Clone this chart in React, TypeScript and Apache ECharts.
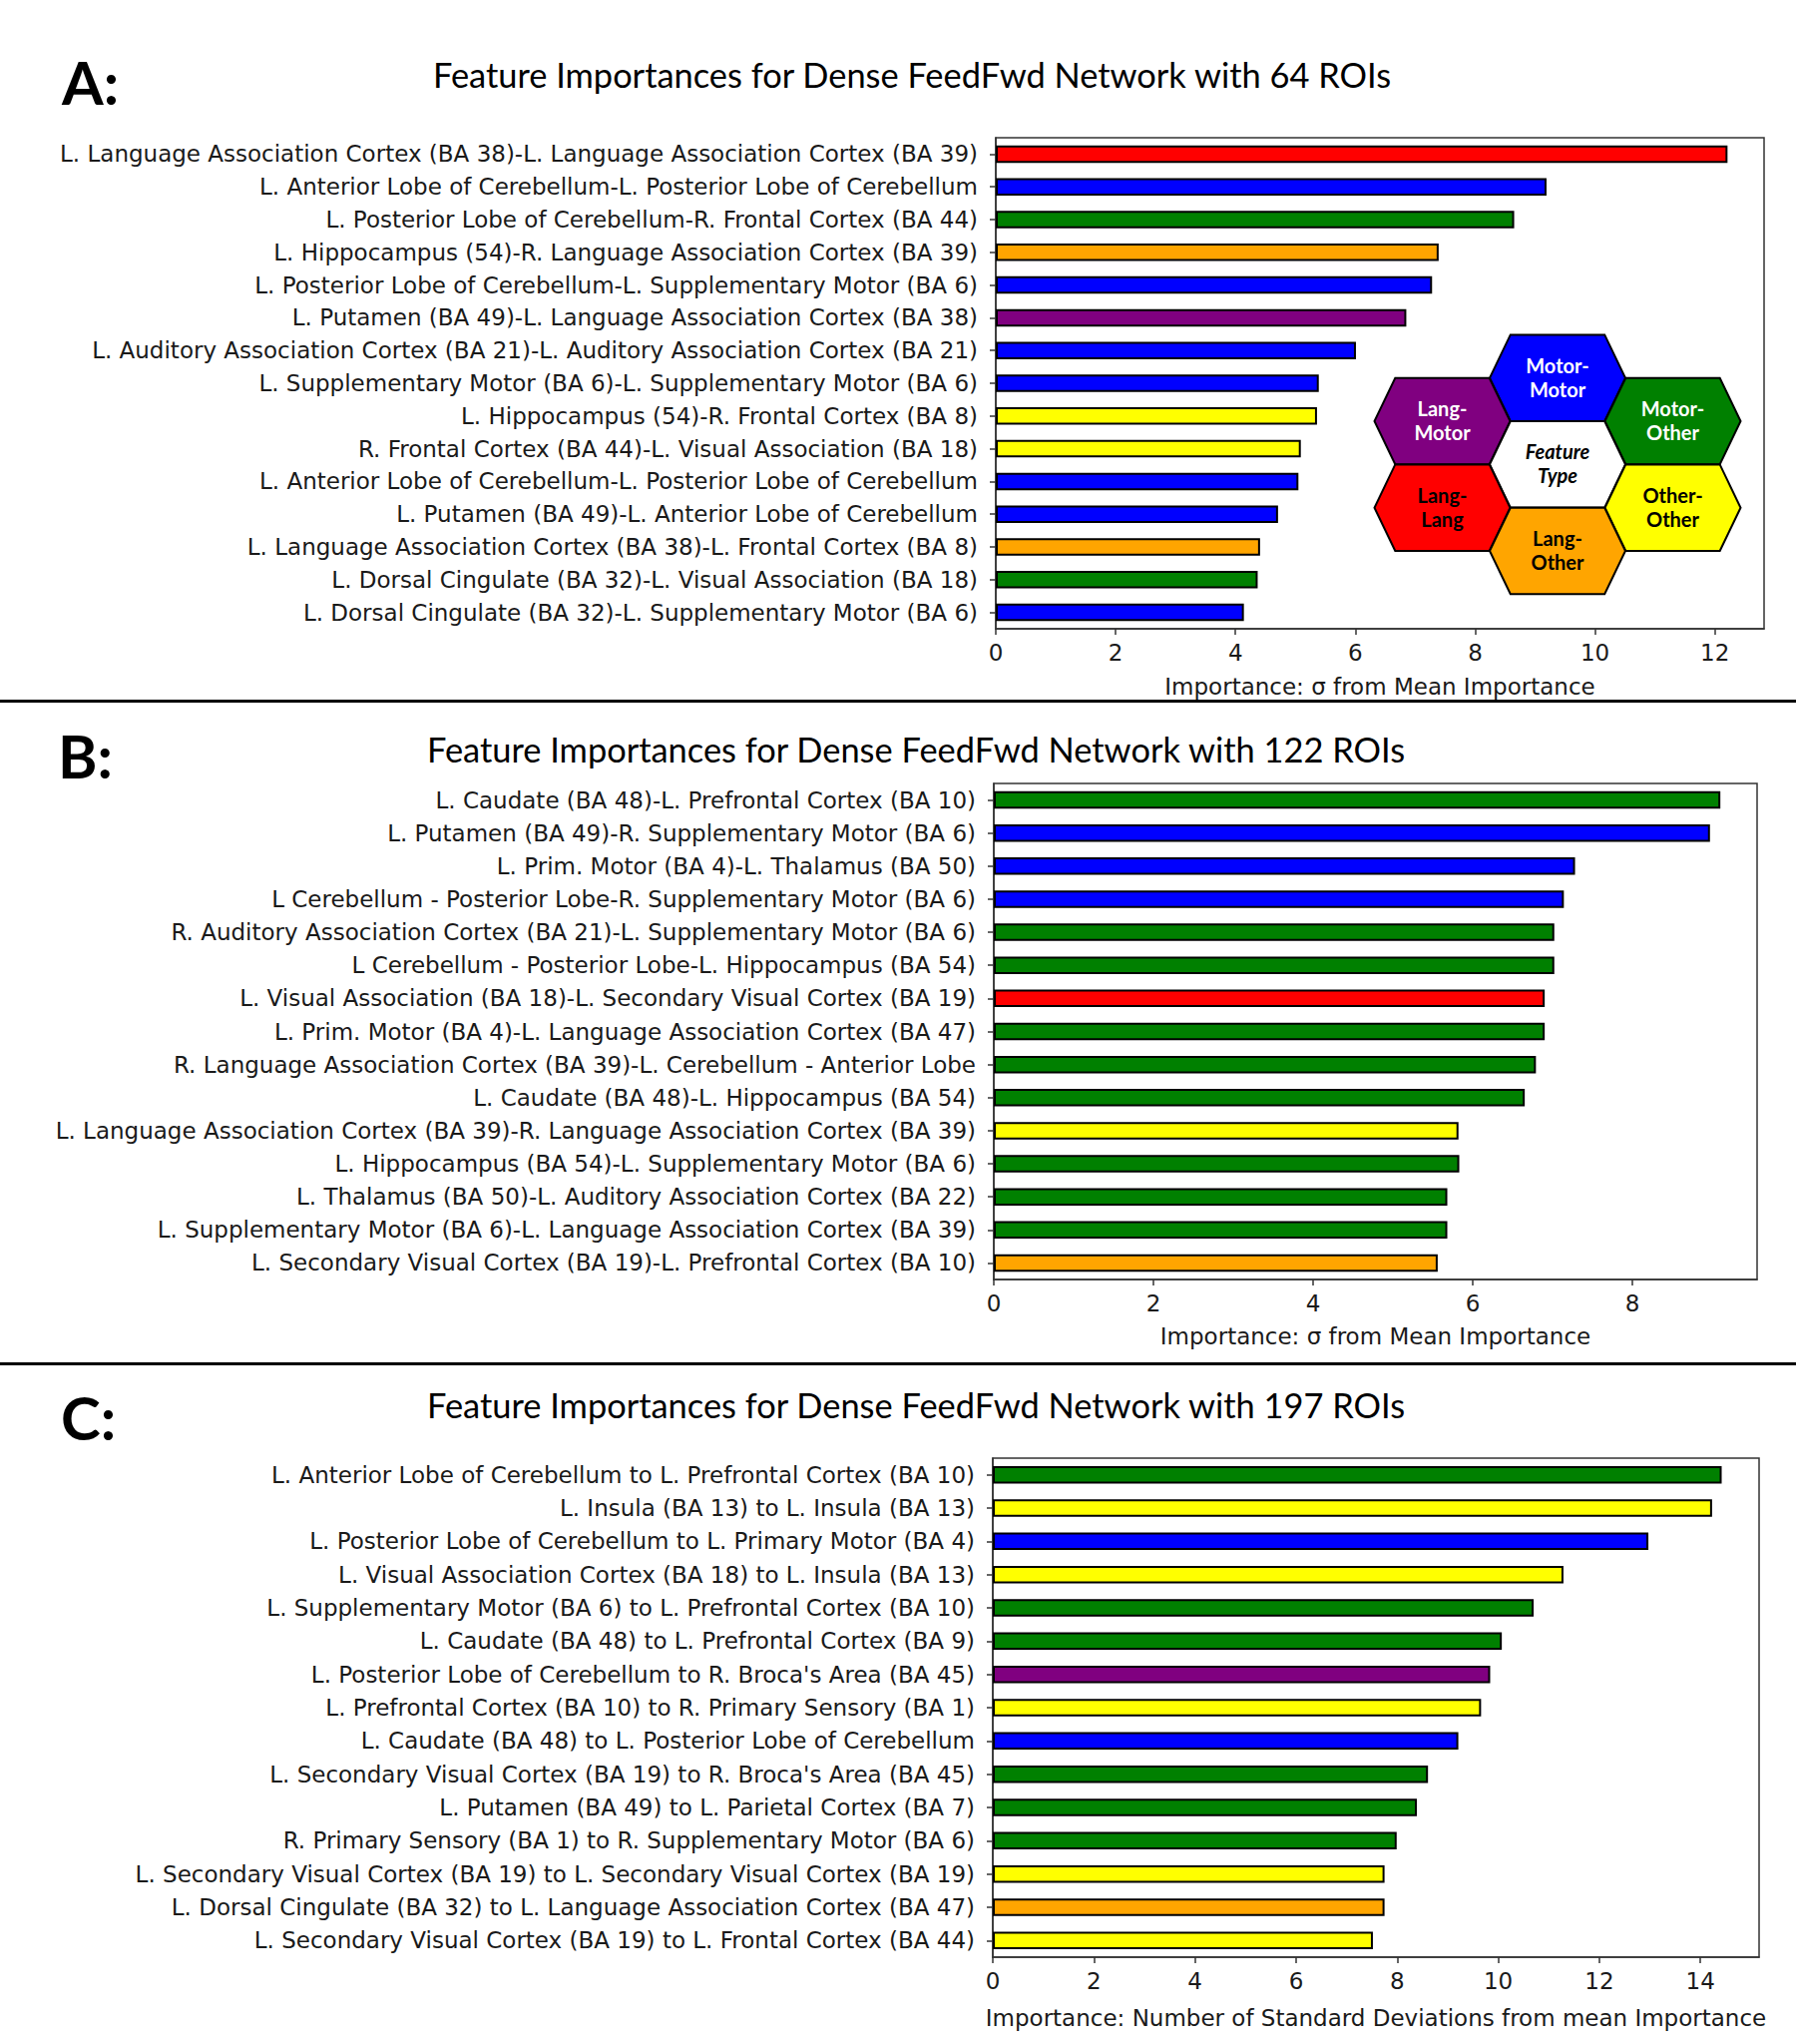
import React, { useEffect, useRef } from 'react';
import * as echarts from 'echarts';

// ---------- data ----------
const typeColors: Record<string, string> = {
  LL: '#ff0000', // Lang-Lang
  MM: '#0000ff', // Motor-Motor
  MO: '#008000', // Motor-Other
  LO: '#ffa500', // Lang-Other
  OO: '#ffff00', // Other-Other
  LM: '#800080', // Lang-Motor
};

const labelsA = [
  'L. Language Association Cortex (BA 38)-L. Language Association Cortex (BA 39)',
  'L. Anterior Lobe of Cerebellum-L. Posterior Lobe of Cerebellum',
  'L. Posterior Lobe of Cerebellum-R. Frontal Cortex (BA 44)',
  'L. Hippocampus (54)-R. Language Association Cortex (BA 39)',
  'L. Posterior Lobe of Cerebellum-L. Supplementary Motor (BA 6)',
  'L. Putamen (BA 49)-L. Language Association Cortex (BA 38)',
  'L. Auditory Association Cortex (BA 21)-L. Auditory Association Cortex (BA 21)',
  'L. Supplementary Motor (BA 6)-L. Supplementary Motor (BA 6)',
  'L. Hippocampus (54)-R. Frontal Cortex (BA 8)',
  'R. Frontal Cortex (BA 44)-L. Visual Association (BA 18)',
  'L. Anterior Lobe of Cerebellum-L. Posterior Lobe of Cerebellum',
  'L. Putamen (BA 49)-L. Anterior Lobe of Cerebellum',
  'L. Language Association Cortex (BA 38)-L. Frontal Cortex (BA 8)',
  'L. Dorsal Cingulate (BA 32)-L. Visual Association (BA 18)',
  'L. Dorsal Cingulate (BA 32)-L. Supplementary Motor (BA 6)',
];
const valuesA = [12.21, 9.19, 8.65, 7.39, 7.28, 6.85, 6.01, 5.39, 5.36, 5.09, 5.05, 4.71, 4.41, 4.37, 4.14];
const typesA = ['LL', 'MM', 'MO', 'LO', 'MM', 'LM', 'MM', 'MM', 'OO', 'OO', 'MM', 'MM', 'LO', 'MO', 'MM'];

const labelsB = [
  'L. Caudate (BA 48)-L. Prefrontal Cortex (BA 10)',
  'L. Putamen (BA 49)-R. Supplementary Motor (BA 6)',
  'L. Prim. Motor (BA 4)-L. Thalamus (BA 50)',
  'L Cerebellum - Posterior Lobe-R. Supplementary Motor (BA 6)',
  'R. Auditory Association Cortex (BA 21)-L. Supplementary Motor (BA 6)',
  'L Cerebellum - Posterior Lobe-L. Hippocampus (BA 54)',
  'L. Visual Association (BA 18)-L. Secondary Visual Cortex (BA 19)',
  'L. Prim. Motor (BA 4)-L. Language Association Cortex (BA 47)',
  'R. Language Association Cortex (BA 39)-L. Cerebellum - Anterior Lobe',
  'L. Caudate (BA 48)-L. Hippocampus (BA 54)',
  'L. Language Association Cortex (BA 39)-R. Language Association Cortex (BA 39)',
  'L. Hippocampus (BA 54)-L. Supplementary Motor (BA 6)',
  'L. Thalamus (BA 50)-L. Auditory Association Cortex (BA 22)',
  'L. Supplementary Motor (BA 6)-L. Language Association Cortex (BA 39)',
  'L. Secondary Visual Cortex (BA 19)-L. Prefrontal Cortex (BA 10)',
];
const valuesB = [9.1, 8.97, 7.28, 7.14, 7.02, 7.02, 6.9, 6.9, 6.79, 6.65, 5.82, 5.83, 5.68, 5.68, 5.56];
const typesB = ['MO', 'MM', 'MM', 'MM', 'MO', 'MO', 'LL', 'MO', 'MO', 'MO', 'OO', 'MO', 'MO', 'MO', 'LO'];

const labelsC = [
  'L. Anterior Lobe of Cerebellum to L. Prefrontal Cortex (BA 10)',
  'L. Insula (BA 13) to L. Insula (BA 13)',
  'L. Posterior Lobe of Cerebellum to L. Primary Motor (BA 4)',
  'L. Visual Association Cortex (BA 18) to L. Insula (BA 13)',
  'L. Supplementary Motor (BA 6) to L. Prefrontal Cortex (BA 10)',
  'L. Caudate (BA 48) to L. Prefrontal Cortex (BA 9)',
  "L. Posterior Lobe of Cerebellum to R. Broca's Area (BA 45)",
  'L. Prefrontal Cortex (BA 10) to R. Primary Sensory (BA 1)',
  'L. Caudate (BA 48) to L. Posterior Lobe of Cerebellum',
  "L. Secondary Visual Cortex (BA 19) to R. Broca's Area (BA 45)",
  'L. Putamen (BA 49) to L. Parietal Cortex (BA 7)',
  'R. Primary Sensory (BA 1) to R. Supplementary Motor (BA 6)',
  'L. Secondary Visual Cortex (BA 19) to L. Secondary Visual Cortex (BA 19)',
  'L. Dorsal Cingulate (BA 32) to L. Language Association Cortex (BA 47)',
  'L. Secondary Visual Cortex (BA 19) to L. Frontal Cortex (BA 44)',
];
const valuesC = [14.42, 14.23, 12.97, 11.29, 10.7, 10.07, 9.84, 9.66, 9.21, 8.61, 8.39, 7.99, 7.75, 7.75, 7.52];
const typesC = ['MO', 'OO', 'MM', 'OO', 'MO', 'MO', 'LM', 'OO', 'MM', 'MO', 'MO', 'MO', 'OO', 'LO', 'OO'];

const ticksA = [0, 2, 4, 6, 8, 10, 12];
const ticksB = [0, 2, 4, 6, 8];
const ticksC = [0, 2, 4, 6, 8, 10, 12, 14];
const axisMax = [12.82, 9.56, 15.16];

const panelLetters = ['A:', 'B:', 'C:'];
const titles = [
  'Feature Importances for Dense FeedFwd Network with 64 ROIs',
  'Feature Importances for Dense FeedFwd Network with 122 ROIs',
  'Feature Importances for Dense FeedFwd Network with 197 ROIs',
];
const xNames = [
  'Importance: \u03c3 from Mean Importance',
  'Importance: \u03c3 from Mean Importance',
  'Importance: Number of Standard Deviations from mean Importance',
];

const legendTypes = ['MM', 'LM', 'MO', '', 'LL', 'OO', 'LO'];
const legendTexts = ['Motor-\nMotor', 'Lang-\nMotor', 'Motor-\nOther', 'Feature\nType', 'Lang-\nLang', 'Other-\nOther', 'Lang-\nOther'];

// ---------- layout ----------
const LAYOUT = [
  { left: 998, top: 138, width: 770, height: 492, nameGap: 46, titleX: 914, titleY: 74, letterX: 62, letterY: 82 },
  { left: 996, top: 785, width: 765, height: 497, nameGap: 45, titleX: 918, titleY: 750, letterX: 58, letterY: 757 },
  { left: 995, top: 1461, width: 768, height: 500, nameGap: 49, titleX: 918, titleY: 1407, letterX: 61, letterY: 1420 },
];
// hex centres (Motor-Motor, Lang-Motor, Motor-Other, Feature Type, Lang-Lang, Other-Other, Lang-Other)
const HEX_POS = [
  [1561, 378.7], [1445.5, 422], [1676.5, 422], [1561, 465.3], [1445.5, 508.7], [1676.5, 508.7], [1561, 552],
];
const HEX_HALF_TOP = 47.2;
const HEX_HALF_W = 68;
const HEX_HALF_H = 43.3;

const LABEL_FONT = "'DejaVu Sans', sans-serif";
const TITLE_FONT = "Lato, 'Open Sans', sans-serif";
const AXIS_COLOR = '#333333';
const TEXT_COLOR = '#1a1a1a';

export default function App() {
  const ref = useRef<HTMLDivElement>(null);

  useEffect(() => {
    if (!ref.current) return;
    const chart = echarts.init(ref.current, null, { renderer: 'svg' });

    const allLabels = [labelsA, labelsB, labelsC];
    const allValues = [valuesA, valuesB, valuesC];
    const allTypes = [typesA, typesB, typesC];
    const allTicks = [ticksA, ticksB, ticksC];

    const grids = LAYOUT.map((l) => ({
      left: l.left,
      top: l.top,
      width: l.width,
      height: l.height,
      show: true,
      borderColor: AXIS_COLOR,
      borderWidth: 1.5,
      backgroundColor: 'transparent',
      containLabel: false,
      outerBoundsMode: 'none',
    }));

    const xAxes = LAYOUT.map((l, i) => ({
      gridIndex: i,
      type: 'value',
      min: 0,
      max: axisMax[i],
      axisLine: { show: true, onZero: false, lineStyle: { color: AXIS_COLOR, width: 1.5 } },
      axisTick: { show: true, length: 6, inside: false, customValues: allTicks[i], lineStyle: { color: AXIS_COLOR, width: 1.5 } },
      axisLabel: {
        customValues: allTicks[i],
        fontFamily: LABEL_FONT,
        fontSize: 23,
        color: TEXT_COLOR,
        margin: 12,
      },
      splitLine: { show: false },
      name: xNames[i],
      nameLocation: 'middle',
      nameGap: l.nameGap,
      nameTextStyle: { fontFamily: LABEL_FONT, fontSize: 23, color: TEXT_COLOR },
    }));

    const yAxes = LAYOUT.map((_, i) => ({
      gridIndex: i,
      type: 'category',
      inverse: true,
      data: allLabels[i],
      axisLine: { show: true, lineStyle: { color: AXIS_COLOR, width: 1.5 } },
      axisTick: { show: true, alignWithLabel: true, length: 6, lineStyle: { color: AXIS_COLOR, width: 1.5 } },
      axisLabel: {
        interval: 0,
        fontFamily: LABEL_FONT,
        fontSize: 23,
        color: TEXT_COLOR,
        margin: 18,
      },
      splitLine: { show: false },
    }));

    const series = LAYOUT.map((_, i) => ({
      type: 'bar',
      xAxisIndex: i,
      yAxisIndex: i,
      barWidth: 17.5,
      data: allValues[i].map((v, j) => ({
        value: v,
        itemStyle: { color: typeColors[allTypes[i][j]] },
      })),
      itemStyle: { borderColor: '#000000', borderWidth: 2 },
      emphasis: { disabled: true },
    }));

    const graphics: any[] = [];
    // separators
    [702.5, 1366.5].forEach((y) => {
      graphics.push({
        type: 'line',
        shape: { x1: 0, y1: y, x2: 1800, y2: y },
        style: { stroke: '#000000', lineWidth: 3 },
      });
    });
    // titles and letters
    LAYOUT.forEach((l, i) => {
      graphics.push({
        type: 'text',
        x: l.titleX,
        y: l.titleY,
        style: {
          text: titles[i],
          fontFamily: TITLE_FONT,
          fontSize: 34.4,
          fill: '#000000',
          align: 'center',
          verticalAlign: 'middle',
        },
      });
      graphics.push({
        type: 'text',
        x: l.letterX,
        y: l.letterY,
        style: {
          text: panelLetters[i],
          fontFamily: TITLE_FONT,
          fontWeight: 'bold',
          fontSize: 60,
          fill: '#000000',
          align: 'left',
          verticalAlign: 'middle',
        },
      });
    });
    // hex legend
    legendTexts.forEach((txt, k) => {
      const [cx, cy] = HEX_POS[k];
      const t = legendTypes[k];
      const fill = t ? typeColors[t] : '#ffffff';
      const whiteText = t === 'MM' || t === 'LM' || t === 'MO';
      graphics.push({
        type: 'polygon',
        z: 10,
        shape: {
          points: [
            [cx - HEX_HALF_TOP, cy - HEX_HALF_H],
            [cx + HEX_HALF_TOP, cy - HEX_HALF_H],
            [cx + HEX_HALF_W, cy],
            [cx + HEX_HALF_TOP, cy + HEX_HALF_H],
            [cx - HEX_HALF_TOP, cy + HEX_HALF_H],
            [cx - HEX_HALF_W, cy],
          ],
        },
        style: { fill, stroke: '#000000', lineWidth: 2 },
      });
      graphics.push({
        type: 'text',
        z: 11,
        x: cx,
        y: cy - 1,
        style: {
          text: txt,
          fontFamily: TITLE_FONT,
          fontWeight: 'bold',
          fontStyle: t ? 'normal' : 'italic',
          fontSize: 20,
          lineHeight: 24,
          fill: whiteText ? '#ffffff' : '#000000',
          align: 'center',
          verticalAlign: 'middle',
        },
      });
    });

    chart.setOption({
      animation: false,
      backgroundColor: '#ffffff',
      grid: grids,
      xAxis: xAxes,
      yAxis: yAxes,
      series,
      graphic: { elements: graphics },
    } as any);

    return () => chart.dispose();
  }, []);

  return (
    <div
      ref={ref}
      style={{ position: 'absolute', left: 0, top: 0, width: 1800, height: 2048, background: '#fff' }}
    />
  );
}
